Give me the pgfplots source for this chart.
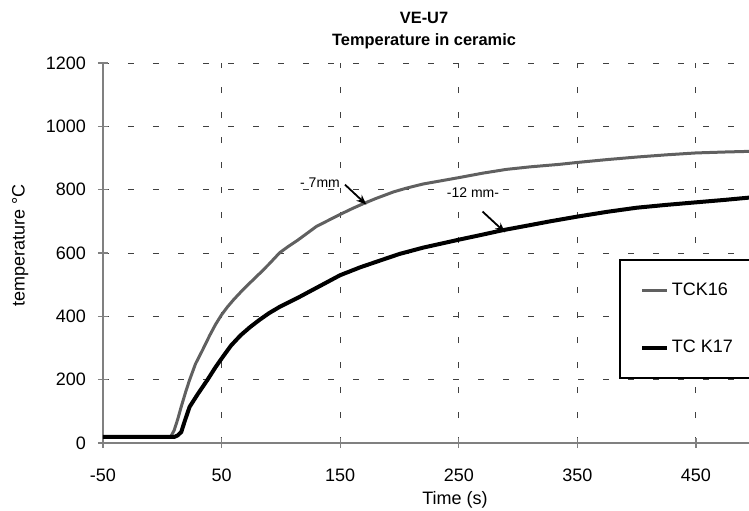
\documentclass[border=0pt]{standalone}
\usepackage{fontspec}
\setmainfont{Liberation Sans}
\setsansfont{Liberation Sans}
\usepackage{pgfplots}
\pgfplotsset{compat=1.18}
\usetikzlibrary{arrows.meta}
\definecolor{curvegray}{RGB}{96,96,96}
\definecolor{axisgray}{RGB}{128,128,128}
\newcommand{\chartfont}{\fontsize{9}{10.8}\selectfont}
\begin{document}
\begin{tikzpicture}
\begin{axis}[
  name=ax,
  scale only axis, width=323pt, height=190pt,
  xmin=-50, xmax=494.7, ymin=0, ymax=1200,
  xtick={-50,50,150,250,350,450}, ytick={0,200,...,1200},
  axis x line=bottom, axis y line=left,
  axis line style={-, draw=axisgray, line width=0.75pt},
  tick align=center, major tick length=5pt,
  tick style={draw=axisgray, line width=0.6pt},
  xmajorgrids, ymajorgrids,
  major grid style={draw=black!75, line width=0.5pt, dash pattern=on 3pt off 9.5pt},
  /pgf/number format/assume math mode=true,
  /pgf/number format/1000 sep={},
  every tick label/.append style={font=\chartfont},
  xticklabel style={yshift=-7.0pt},
  yticklabel style={xshift=-2.5pt},
  xlabel={Time (s)},
  ylabel={temperature °C},
  x label style={at={(axis description cs:0.545,-0.150)}, anchor=center, font=\chartfont},
  y label style={at={(axis description cs:-0.128,0.52)}, anchor=center, font=\chartfont},
  title={VE-U7\\Temperature in ceramic},
  title style={at={(axis description cs:0.497,1)}, anchor=south, yshift=0.6pt, inner sep=0pt, align=center, font=\fontsize{8.2}{11}\selectfont\bfseries},
  legend style={at={(axis description cs:0.799,0.483)}, anchor=north west, draw=black, line width=0.75pt, fill=white,
    inner xsep=10.25pt, inner ysep=11.4pt, row sep=20.6pt,
    nodes={inner xsep=1.25pt, inner ysep=0pt}, font=\chartfont},
  legend cell align=left,
  legend image code/.code={\draw[#1] (0pt,0pt) -- (12.5pt,0pt);},
]
\addplot[curvegray, line width=1.5pt] coordinates {
(-50,19) (0,19) (7,19) (10,40) (13,75) (16,115) (20,165) (23,199) (28,250) (34,294) (40,340) (45,375) (50,405) (55,430) (60,452) (67,480) (74,506) (82,535) (90,565) (99,601) (106,620) (114,640) (122,662) (130,684) (140,703) (150,722) (160,740) (169,755) (180,772) (195,793) (206,805) (220,818) (235,828) (250,838) (270,852) (290,864) (310,872) (335,880) (350,886) (375,895) (400,903) (425,910) (450,916) (475,919) (495,921)
};
\addlegendentry{TCK16\hspace{40pt}}
\addplot[black, line width=2pt] coordinates {
(-50,19) (0,19) (10,19) (13,24) (16,35) (19,70) (23,114) (30,155) (38,199) (45,240) (51,272) (58,308) (66,340) (74,366) (82,389) (90,410) (99,430) (108,447) (116,462) (125,480) (135,500) (150,530) (167,555) (185,578) (200,597) (220,617) (250,642) (270,658) (287,672) (310,688) (327,700) (350,715) (375,730) (400,743) (425,752) (450,760) (475,768) (495,775)
};
\addlegendentry{TC K17\hspace{38pt}}
\node[font=\fontsize{7}{8}\selectfont, fill=white, inner sep=0.5pt] at (axis cs:133,823) {- 7mm};
\draw[-{Stealth[length=5pt,width=4pt]}, line width=0.9pt] (axis cs:154,816) -- (axis cs:172,753);
\node[font=\fontsize{7}{8}\selectfont, fill=white, inner sep=0.5pt] at (axis cs:262,791) {-12 mm-};
\draw[-{Stealth[length=5pt,width=4pt]}, line width=0.9pt] (axis cs:270,731) -- (axis cs:289,665);
\end{axis}
\pgfresetboundingbox
\path[use as bounding box] ([xshift=-51.5pt,yshift=-33.5pt]ax.south west) rectangle ([yshift=31.5pt]ax.north east);
\end{tikzpicture}
\end{document}
